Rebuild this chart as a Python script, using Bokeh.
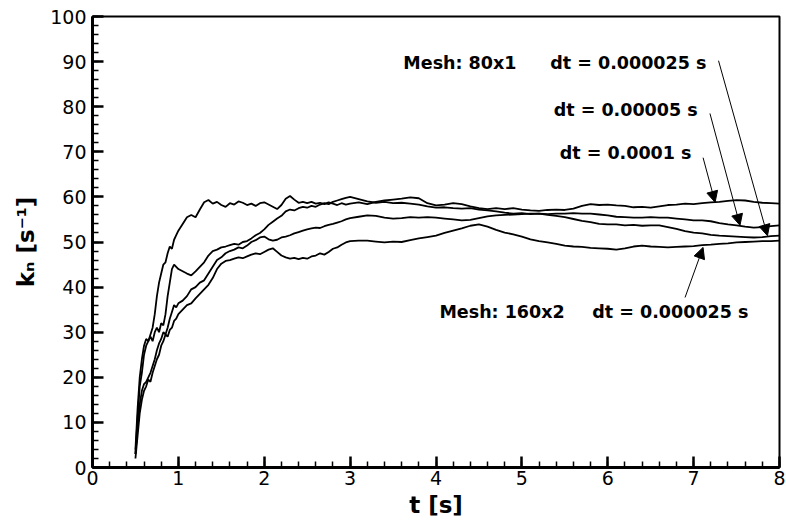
import numpy as np
from bokeh.plotting import figure
from bokeh.models import Range1d, SingleIntervalTicker, Label, Arrow, NormalHead
from bokeh.embed import file_html
from bokeh.resources import INLINE

# ---- time grid (s) ----
t_early = [0.500, 0.525, 0.550, 0.575, 0.600, 0.625, 0.650, 0.675, 0.700, 0.725,
           0.750, 0.775, 0.800, 0.825, 0.850, 0.875, 0.900, 0.925, 0.950, 0.975, 1.000]
t_mid = [1.05, 1.10, 1.15, 1.20, 1.25, 1.30, 1.35, 1.40, 1.45, 1.50,
         1.55, 1.60, 1.65, 1.70, 1.75, 1.80, 1.85, 1.90, 1.95, 2.00,
         2.05, 2.10, 2.15, 2.20, 2.25, 2.30, 2.35, 2.40, 2.45, 2.50,
         2.55, 2.60, 2.65, 2.70, 2.75, 2.80, 2.85, 2.90, 2.95, 3.00]
t_late = [3.1, 3.2, 3.3, 3.4, 3.5, 3.6, 3.7, 3.8, 3.9, 4.0,
          4.1, 4.2, 4.3, 4.4, 4.5, 4.6, 4.7, 4.8, 4.9, 5.0,
          5.1, 5.2, 5.3, 5.4, 5.5, 5.6, 5.7, 5.8, 5.9, 6.0,
          6.1, 6.2, 6.3, 6.4, 6.5, 6.6, 6.7, 6.8, 6.9, 7.0,
          7.1, 7.2, 7.3, 7.4, 7.5, 7.6, 7.7, 7.8, 7.9, 8.0]
t = t_early + t_mid + t_late

# ---- Mesh 80x1, dt = 0.0001 s ----
kn_dt0001 = ([3, 11, 18, 21, 25, 27, 28, 29.5, 31, 34, 38, 41, 43, 45, 45.5, 47.5, 49, 48.5, 50.5, 51.5, 52.5]
             + [54, 55.5, 56, 55.5, 57.2, 58.8, 59.3, 58.5, 58.9, 58.2, 57.8, 58.6, 58.3, 59, 58.7, 58.2, 58.5, 58.0, 58.6, 58.8,
                58.3, 57.8, 57.3, 58.2, 59.6, 60.2, 59.4, 58.7, 58.9, 58.6, 58.9, 58.5, 58.7, 58.4, 58.8, 58.5, 58.2, 58.6, 58.3, 58.5]
             + [58.8, 58.4, 58.9, 59.2, 59.4, 59.6, 59.9, 59.7, 58.6, 58.1, 58.3, 58.6, 58.4, 57.9, 57.5, 57.3, 57.5, 57.3, 57.5, 57.2,
                57.0, 56.9, 57.1, 57.2, 57.1, 57.4, 58.0, 58.4, 58.2, 58.3, 58.1, 58.0, 57.7, 57.8, 57.6, 57.9, 58.2, 58.3, 58.5, 58.4,
                58.6, 58.8, 58.9, 59.1, 59.3, 59.2, 58.9, 58.7, 58.6, 58.5])

# ---- Mesh 80x1, dt = 0.000025 s ----
kn_dt000025 = ([4, 13, 20, 24, 27, 28.5, 28, 29, 28, 30, 31, 30, 32, 31.5, 34, 38, 41, 44, 45, 44.5, 44]
               + [43.5, 43, 42.6, 43.5, 44.5, 45.5, 47, 48, 48.3, 48.8, 49, 49.3, 49.6, 49.4, 50, 50.2, 50.8, 51.5, 52, 52.8,
                  53.8, 54.5, 55.2, 55.8, 56.8, 57.2, 57, 57.5, 57.8, 57.6, 58, 57.8, 58.3, 58.6, 58.4, 58.9, 59.2, 59.5, 59.8, 60]
               + [59.5, 59, 58.7, 58.9, 58.6, 58.7, 58.5, 58.3, 57.9, 57.6, 57.7, 57.5, 57.4, 57.5, 57.2, 57, 56.8, 56.5, 56.3, 56.4,
                  56.2, 56.3, 56, 55.8, 55.5, 55.1, 54.7, 54.4, 54, 53.9, 53.9, 53.7, 53.8, 53.6, 53.7, 53.7, 53.3, 52.9, 52.4, 52.1,
                  51.9, 51.6, 51.4, 51.3, 51.2, 51.1, 51, 51.1, 51.3, 51.4])

# ---- Mesh 80x1, dt = 0.00005 s ----
kn_dt00005 = ([3, 9, 14, 17, 18.5, 19, 20, 21, 22.5, 24, 26, 27.5, 28.5, 30, 29.5, 31, 33, 34.5, 36, 35.5, 36.4]
              + [37, 38, 39.5, 40, 41, 41.5, 43, 44.5, 46, 46.6, 47.5, 48, 48.3, 48.8, 48.6, 49.2, 50, 50.4, 51, 51.2,
                 50.6, 50.3, 50.5, 51, 51.2, 51.5, 51.9, 52.2, 52.5, 52.8, 53, 53.2, 53.1, 53.5, 53.8, 54, 54.3, 54.6, 55, 55.3]
              + [55.6, 55.9, 55.8, 55.4, 55.2, 55.3, 55.5, 55.4, 55.5, 55.4, 55.2, 55, 54.8, 54.9, 55.3, 55.7, 55.9, 56, 56.1, 56.2,
                 56.3, 56.3, 56.2, 56.3, 56.3, 56.4, 56.3, 56.3, 56.1, 55.9, 55.6, 55.5, 55.4, 55.4, 55.5, 55.4, 55.4, 55.2, 55, 54.8,
                 54.8, 54.6, 54.2, 53.9, 53.7, 53.4, 53.2, 53.3, 53.5, 53.7])

# ---- Mesh 160x2, dt = 0.000025 s ----
kn_mesh160 = ([2, 7, 12, 15, 17, 18, 19.5, 19, 21, 22.5, 24, 25, 27, 28, 29.5, 29, 30.5, 31, 32.5, 33, 34]
              + [35, 36, 36.4, 37.5, 38.5, 39.5, 40.5, 42, 44, 45.2, 45.8, 46, 46.3, 46.6, 46.4, 46.8, 47.2, 47.5, 47.3, 47.8,
                 48.3, 48.6, 47.8, 47, 46.6, 46.3, 46.5, 46.2, 46.5, 46.3, 46.8, 47, 47.5, 47.2, 47.8, 48.5, 48.8, 49.4, 49.9, 50.2]
              + [50.3, 50.3, 50.1, 49.9, 50.1, 50, 50.4, 50.8, 51.1, 51.4, 52, 52.5, 53, 53.6, 53.9, 53.4, 52.7, 52.1, 51.7, 51.2,
                 50.6, 50.2, 49.9, 49.6, 49.2, 49, 48.9, 48.7, 48.6, 48.5, 48.3, 48.6, 49, 49.2, 49, 48.9, 48.8, 48.9, 49, 49.1,
                 49.3, 49.4, 49.6, 49.7, 49.9, 50, 50.1, 50.2, 50.2, 50.3])

series = [kn_dt0001, kn_dt000025, kn_dt00005, kn_mesh160]

# ---- annotations: (text, t, k) and arrows (tail t, tail k, tip t, tip k) ----
labels = [("Mesh: 80x1", 3.62, 89.8), ("dt = 0.000025 s", 5.33, 89.8),
          ("dt = 0.00005 s", 5.37, 79.2), ("dt = 0.0001 s", 5.44, 69.8),
          ("Mesh: 160x2", 4.04, 34.4), ("dt = 0.000025 s", 5.82, 34.4)]
arrows = [(7.11, 68.7, 7.25, 58.8), (7.19, 78.5, 7.54, 53.7),
          (7.29, 90.2, 7.86, 51.4), (6.90, 37.7, 7.11, 48.8)]

p = figure(frame_width=687, frame_height=451, output_backend="svg", toolbar_location=None,
           x_range=Range1d(0, 8), y_range=Range1d(0, 100),
           min_border_left=92, min_border_right=7, min_border_top=16, min_border_bottom=58)
p.background_fill_color = "white"
p.border_fill_color = "white"
p.grid.visible = False
p.outline_line_color = "black"
p.outline_line_width = 2

for s in series:
    p.line(t, s, line_color="black", line_width=1.8)

for txt, x, y in labels:
    p.add_layout(Label(x=x, y=y, text=txt, text_font="DejaVu Sans", text_font_style="bold",
                       text_font_size="17.5px", text_align="left", text_baseline="middle",
                       text_color="black"))
for x0, y0, x1, y1 in arrows:
    p.add_layout(Arrow(x_start=x0, y_start=y0, x_end=x1, y_end=y1, line_width=1, line_color="black",
                       end=NormalHead(size=11, fill_color="black", line_color="black", line_width=1)))

p.xaxis.ticker = SingleIntervalTicker(interval=1, num_minor_ticks=5)
p.yaxis.ticker = SingleIntervalTicker(interval=10, num_minor_ticks=5)
for ax in (p.xaxis[0], p.yaxis[0]):
    ax.axis_line_width = 3
    ax.axis_line_color = "black"
    ax.major_tick_in = 11
    ax.major_tick_out = 0
    ax.minor_tick_in = 6
    ax.minor_tick_out = 0
    ax.major_tick_line_width = 2.5
    ax.minor_tick_line_width = 1.5
    ax.major_label_text_font = "DejaVu Sans"
    ax.major_label_text_font_size = "19px"
    ax.major_label_text_color = "black"
    ax.axis_label_text_font = "DejaVu Sans"
    ax.axis_label_text_font_style = "bold"
    ax.axis_label_text_font_size = "23px"
    ax.axis_label_text_color = "black"

p.xaxis.axis_label = "t [s]"
p.yaxis.axis_label = "kₙ [s⁻¹]"
p.xaxis.major_label_standoff = 3
p.xaxis.axis_label_standoff = 4
p.yaxis.major_label_standoff = 6
p.yaxis.axis_label_standoff = 8

open("out.html", "w").write(file_html(p, INLINE))
